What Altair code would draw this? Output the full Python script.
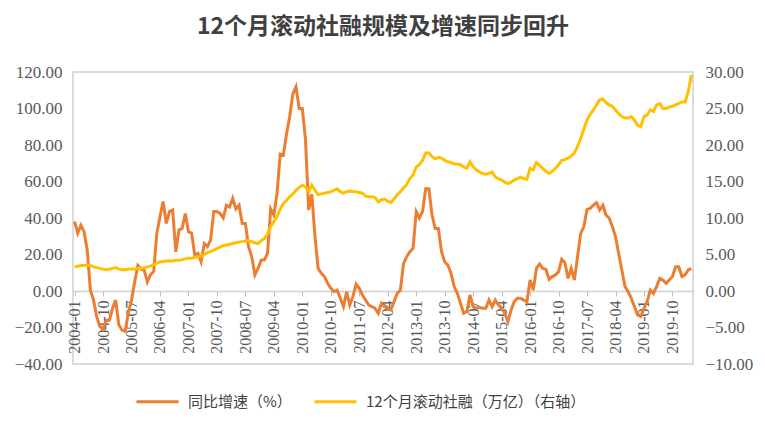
import altair as alt
import pandas as pd

title_text = "12个月滚动社融规模及增速同步回升"
series_names = ["同比增速（%）", "12个月滚动社融（万亿）（右轴）"]
series_colors = ["#ED7D31", "#FFC000"]
start_year = 2004
tick_months = list(range(0, 190, 9))

# 同比增速 (%), monthly 2004-01 .. 2020-04
growth = [
    38, 31.6, 36, 32.5, 22.5, 0.5, -5, -14, -19.5, -21, -16, -16,
    -9.5, -5, -18.6, -21.4, -22, -12, -5, 5, 14, 12, 11.5, 5,
    9, 10.6, 31.6, 40.7, 49, 37, 43.5, 44.4, 21.5, 33.4, 34.3, 42.5,
    32.5, 31.6, 19.7, 20.6, 16, 26, 24.3, 28, 43.5, 43.5, 42.5, 40,
    47, 46, 50.8, 45, 47, 37, 37, 24.3, 18.8, 8.8, 12.4, 17,
    17, 20.6, 45, 41.6, 53.5, 75, 74.5, 86, 95.5, 108, 112, 100,
    100, 83, 44.4, 53, 29.8, 12.4, 9.7, 7.9, 4.2, 1.5, -0.4, 0.5,
    -4, -8.6, -0.4, -7.7, -3, 3.8, 1.5, -2.2, -5, -7.7, -8.6, -9.5,
    -12.2, -6.8, -8.6, -9.5, -10.4, -5.8, -1.3, 0.5, 15, 18.8, 21.5, 23.4,
    43.5, 40, 43.5, 56, 56, 41.6, 34.3, 34.3, 21.5, 16, 14.2, 9.7,
    2.4, -1.3, -6.8, -12.2, -11.3, -2.2, -8.6, -9.5, -9, -9.5, -9.5, -5,
    -8.6, -5, -7.7, -9.5, -12.2, -16.8, -10.4, -5.8, -4, -4, -5, -5.8,
    6, 0.5, 12.4, 14.8, 12.4, 11.9, 6.4, 7.9, 8.8, 10.6, 17.4, 15.5,
    6.9, 12.4, 6, 18.8, 31.6, 35.3, 44.7, 45.3, 47, 48.4, 44.4, 47,
    41.6, 40, 35.3, 29.8, 20.6, 11.5, 2.4, -0.4, -4, -8.6, -13.2, -14,
    -9.5, -5.8, 0.5, -1.3, 2.4, 6.9, 6, 4.2, 6, 7.9, 13.3, 13.3,
    7.9, 8.8, 11.5, 12.4,
]

# 12个月滚动社融 (万亿), monthly 2004-01 .. 2020-04
tsf = [
    3.3, 3.4, 3.5, 3.5, 3.6, 3.5, 3.3, 3.2, 3.1, 3.0, 2.9, 3.0,
    3.1, 3.2, 3.0, 2.9, 2.9, 3.0, 3.0, 3.0, 3.1, 3.1, 3.2, 3.3,
    3.4, 3.6, 3.8, 4.0, 4.0, 4.1, 4.15, 4.1, 4.2, 4.2, 4.3, 4.4,
    4.5, 4.5, 4.6, 4.7, 4.8, 5.0, 5.25, 5.4, 5.6, 5.8, 6.0, 6.2,
    6.3, 6.4, 6.5, 6.6, 6.7, 6.8, 6.85, 6.9, 6.75, 6.6, 6.5, 6.9,
    7.2, 7.8, 8.8, 9.5, 10.2, 11.2, 12.0, 12.4, 12.9, 13.3, 13.8, 14.2,
    14.5, 14.3, 13.6, 14.5, 13.8, 13.2, 13.3, 13.4, 13.5, 13.6, 13.8, 14.0,
    13.6, 13.4, 13.6, 13.7, 13.6, 13.6, 13.5, 13.4, 13.0, 12.9, 12.9, 12.8,
    12.2, 12.5, 12.6, 12.3, 12.1, 12.6, 13.2, 13.6, 14.1, 14.6, 15.4, 15.9,
    17.0, 17.3, 17.9, 18.9, 18.9, 18.4, 18.1, 18.3, 18.2, 17.9, 17.7, 17.6,
    17.4, 17.4, 17.3, 17.0, 16.8, 17.7, 17.0, 16.6, 16.3, 16.1, 16.0, 16.1,
    16.3, 15.6, 15.4, 15.2, 14.9, 14.7, 14.9, 15.2, 15.4, 15.6, 15.4, 15.3,
    16.8, 16.6, 17.6, 17.2, 16.8, 16.4, 16.1, 16.4, 16.8, 17.3, 17.9, 18.0,
    18.2, 18.5, 18.9, 19.8, 20.9, 22.2, 23.4, 24.2, 24.8, 25.5, 26.2, 26.3,
    25.8, 25.5, 25.3, 24.8, 24.3, 23.9, 23.7, 23.7, 23.9, 23.4, 22.7, 22.5,
    23.9, 24.1, 24.8, 24.6, 25.5, 25.7, 25.0, 25.0, 25.2, 25.3, 25.5, 25.7,
    25.9, 25.9, 27.3, 29.6,
]

n = len(growth)
df1 = pd.DataFrame({"idx": list(range(n)), "v": growth, "series": series_names[0]})
df2 = pd.DataFrame({"idx": list(range(len(tsf))), "v": tsf, "series": series_names[1]})

serif = "Liberation Serif"
cjk = "Noto Sans CJK SC"
label_color = "#595959"

label_expr = (
    f"'' + ({start_year} + floor(datum.value / 12)) + '-' + "
    "(datum.value % 12 < 9 ? '0' : '') + (datum.value % 12 + 1)"
)

x_enc = alt.X(
    "idx:Q",
    scale=alt.Scale(domain=[-0.5, n - 0.5], nice=False, zero=False),
    axis=alt.Axis(
        title=None,
        values=tick_months,
        labelExpr=label_expr,
        labelAngle=-90,
        labelAlign="right",
        labelBaseline="middle",
        labelFont=serif,
        labelFontSize=16,
        labelColor=label_color,
        labelPadding=4,
        tickSize=5,
        tickColor="#bfbfbf",
        domainColor="#d0d0d0",
        domainWidth=1.5,
        grid=False,
        offset=-73,
        labelOverlap=False,
    ),
)

color_enc = alt.Color(
    "series:N",
    scale=alt.Scale(domain=series_names, range=series_colors),
    legend=alt.Legend(
        title=None,
        orient="none",
        direction="horizontal",
        legendX=62,
        legendY=307,
        symbolType="stroke",
        symbolSize=1764,
        symbolStrokeWidth=3,
        labelFont=cjk,
        labelFontSize=15,
        labelColor="#404040",
        labelOffset=8,
        labelLimit=400,
        columnPadding=16,
        padding=0,
    ),
)

left = alt.Chart(df1).mark_line(strokeWidth=3).encode(
    x=x_enc,
    y=alt.Y(
        "v:Q",
        scale=alt.Scale(domain=[-40, 120], nice=False),
        axis=alt.Axis(
            title=None,
            values=list(range(-40, 121, 20)),
            format=".2f",
            labelFont=serif,
            labelFontSize=17,
            labelColor=label_color,
            labelPadding=11,
            ticks=False,
            domain=False,
            grid=False,
        ),
    ),
    color=color_enc,
)

right = alt.Chart(df2).mark_line(strokeWidth=3).encode(
    x=x_enc,
    y=alt.Y(
        "v:Q",
        scale=alt.Scale(domain=[-10, 30], nice=False),
        axis=alt.Axis(
            title=None,
            orient="right",
            values=list(range(-10, 31, 5)),
            format=".2f",
            labelFont=serif,
            labelFontSize=17,
            labelColor=label_color,
            labelPadding=12,
            ticks=False,
            domain=False,
            grid=False,
        ),
    ),
    color=color_enc,
)

chart = (
    alt.layer(left, right)
    .resolve_scale(y="independent")
    .properties(
        width=620,
        height=292,
        autosize=alt.AutoSizeParams(type="none"),
        padding={"left": 73, "top": 72, "right": 72, "bottom": 68},
        title=alt.Title(
            title_text,
            font=cjk,
            fontSize=23,
            fontWeight="bold",
            color="#404040",
            anchor="middle",
            offset=24,
        ),
        background="white",
    )
    .configure_view(stroke="#d0d0d0", strokeWidth=1.5)
)

chart.save("out.html", embed_options={"renderer": "svg", "actions": False})
